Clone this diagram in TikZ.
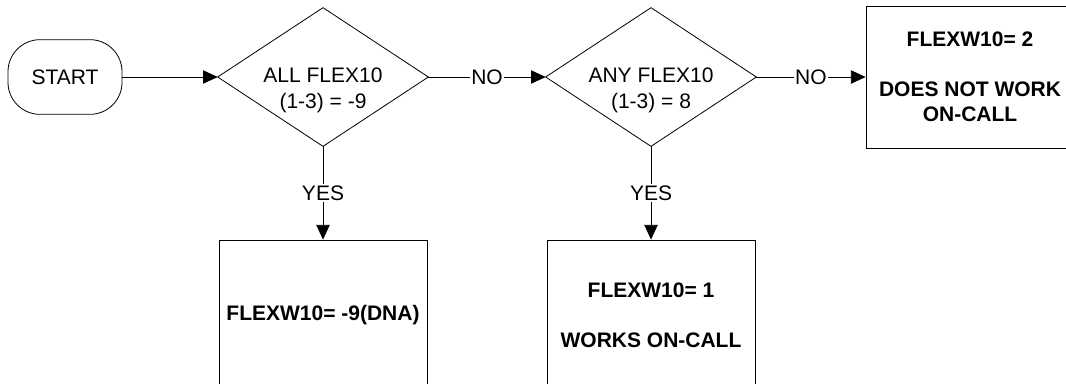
\documentclass[tikz,border=0pt]{standalone}
\usepackage{fontspec}
\setmainfont{Liberation Sans}
\usetikzlibrary{arrows.meta, positioning, shapes.geometric}

\begin{document}
\begin{tikzpicture}[
  x=0.75pt, y=-0.75pt,
  every node/.style={font=\fontsize{15.75}{19.5}\selectfont},
  terminal/.style={
    draw, rounded corners=24pt, minimum width=85.5pt,
    minimum height=56pt, inner sep=0pt, line width=0.6pt
  },
  decision/.style={
    draw, diamond, minimum width=158pt, minimum height=104pt,
    inner sep=0pt, outer sep=0pt, line width=0.6pt
  },
  outcome/.style={
    draw, minimum width=156pt, align=center, line width=0.6pt,
    font=\bfseries\fontsize{15.75}{18.75}\selectfont
  },
  cond/.style={align=center, inner sep=0pt},
  lbl/.style={fill=white, inner sep=1pt},
  arr/.style={-{Triangle[length=11pt, width=10pt]}, line width=0.6pt}
]
  \clip (0,0) rectangle (1066,383);

  % shapes
  \node[terminal] (start) at (65, 77) {START};
  \node[decision] (all) at (323, 77) {};
  \node[cond] (alltxt) at (323, 90) {ALL FLEX10\\(1-3) = -9};
  \node[decision] (any) at (651, 77) {};
  \node[cond] (anytxt) at (651, 90) {ANY FLEX10\\(1-3) = 8};

  \node[outcome, minimum height=112.5pt] (dna) at (323, 315)
    {FLEXW10= -9(DNA)};
  \node[outcome, minimum height=112.5pt] (works) at (651, 315)
    {FLEXW10= 1\\[18.75pt]WORKS ON-CALL};
  \node[outcome, minimum height=106.5pt] (notwork) at (970, 77)
    {FLEXW10= 2\\[18.75pt]DOES NOT WORK\\ON-CALL};

  % connectors
  \draw[arr] (start.east) -- (all.west);
  \draw[arr] (all.east) -- node[lbl] {NO} (any.west);
  \draw[arr] (any.east) -- node[lbl] {NO} (notwork.west);
  \draw[arr] (all.south) -- node[lbl] {YES} (dna.north);
  \draw[arr] (any.south) -- node[lbl] {YES} (works.north);
\end{tikzpicture}
\end{document}
